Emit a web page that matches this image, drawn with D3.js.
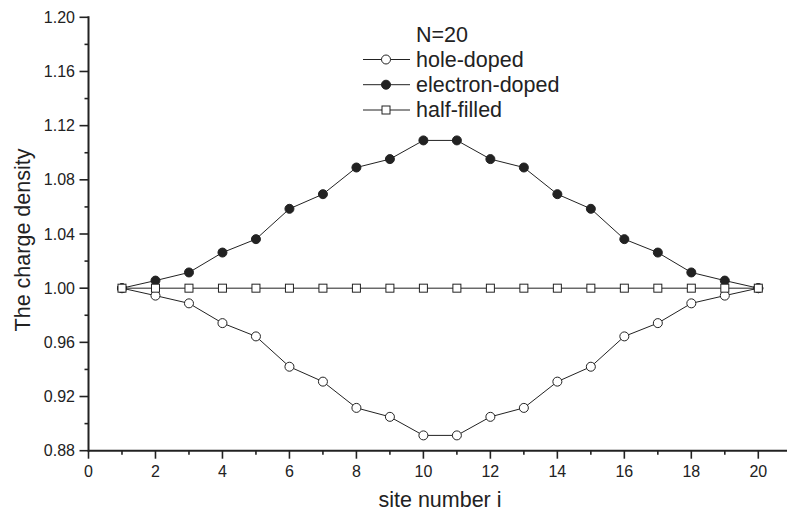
<!DOCTYPE html>
<html><head><meta charset="utf-8">
<script src="https://cdn.jsdelivr.net/npm/d3@7"></script>
<style>body{margin:0;background:#fff}svg{display:block}text{font-family:"Liberation Sans",Arial,sans-serif;fill:#222}</style>
</head><body><svg id="c" width="787" height="515"></svg>
<script>
const sites = d3.range(1, 21);
const holeDoped = [1.000,0.9945,0.9888,0.9742,0.9644,0.9420,0.9310,0.9116,0.9050,0.8913,0.8913,0.9050,0.9116,0.9310,0.9420,0.9644,0.9742,0.9888,0.9945,1.000];
const electronDoped = [1.000,1.0056,1.0116,1.0263,1.0362,1.0586,1.0694,1.0891,1.0953,1.1091,1.1091,1.0953,1.0891,1.0694,1.0586,1.0362,1.0263,1.0116,1.0056,1.000];
const halfFilled = [1,1,1,1,1,1,1,1,1,1,1,1,1,1,1,1,1,1,1,1];
const xTicks = [0,2,4,6,8,10,12,14,16,18,20];
const yTicks = [0.88,0.92,0.96,1.00,1.04,1.08,1.12,1.16,1.20];
const legendTitle = "N=20";
const seriesNames = ["hole-doped","electron-doped","half-filled"];

const svg = d3.select("#c");
const x0 = 88.5, x20 = 758.3, yTop = 17.3, yBot = 450.7;
const x = d3.scaleLinear().domain([0,20]).range([x0,x20]);
const y = d3.scaleLinear().domain([0.88,1.20]).range([yBot,yTop]);
const ink = "#222";

// x axis
const gx = svg.append("g");
gx.append("line").attr("x1",x0).attr("x2",787).attr("y1",yBot).attr("y2",yBot).attr("stroke",ink).attr("stroke-width",2);
gx.selectAll(".mj").data(xTicks).join("line").attr("x1",d=>x(d)).attr("x2",d=>x(d)).attr("y1",yBot).attr("y2",yBot+8).attr("stroke",ink).attr("stroke-width",1.6);
gx.selectAll(".mn").data(d3.range(1,21,2)).join("line").attr("x1",d=>x(d)).attr("x2",d=>x(d)).attr("y1",yBot).attr("y2",yBot+4).attr("stroke",ink).attr("stroke-width",1.6);
gx.selectAll("text").data(xTicks).join("text").attr("x",d=>x(d)).attr("y",476.5).attr("text-anchor","middle").attr("font-size",16).text(d=>d);

// y axis
const gy = svg.append("g");
gy.append("line").attr("x1",x0).attr("x2",x0).attr("y1",yTop-1).attr("y2",yBot+1).attr("stroke",ink).attr("stroke-width",2);
gy.selectAll(".mj").data(yTicks).join("line").attr("x1",x0-9).attr("x2",x0).attr("y1",d=>y(d)).attr("y2",d=>y(d)).attr("stroke",ink).attr("stroke-width",1.6);
gy.selectAll(".mn").data(d3.range(0.90,1.20,0.04)).join("line").attr("x1",x0-4).attr("x2",x0).attr("y1",d=>y(d)).attr("y2",d=>y(d)).attr("stroke",ink).attr("stroke-width",1.6);
gy.selectAll("text").data(yTicks).join("text").attr("x",75).attr("y",d=>y(d)+5.5).attr("text-anchor","end").attr("font-size",16).text(d=>d.toFixed(2));

// titles
svg.append("text").attr("x",440).attr("y",507).attr("text-anchor","middle").attr("font-size",21.5).text("site number i");
svg.append("text").attr("transform","translate(30,240) rotate(-90)").attr("text-anchor","middle").attr("font-size",21.5).text("The charge density");

// series
const line = d3.line().x((d,i)=>x(sites[i])).y(d=>y(d));
function drawSeries(vals, kind){
  const g = svg.append("g");
  g.append("path").attr("d",line(vals)).attr("fill","none").attr("stroke",ink).attr("stroke-width",1);
  drawMarkers(g, vals.map((v,i)=>[x(sites[i]),y(v)]), kind);
}
function drawMarkers(g, pts, kind){
  if(kind==="square"){
    g.selectAll("rect").data(pts).join("rect").attr("x",d=>d[0]-4).attr("y",d=>d[1]-4).attr("width",8).attr("height",8).attr("fill","#fff").attr("stroke",ink).attr("stroke-width",1);
  } else {
    g.selectAll("circle").data(pts).join("circle").attr("cx",d=>d[0]).attr("cy",d=>d[1]).attr("r",4.5).attr("fill",kind==="filled"?ink:"#fff").attr("stroke",ink).attr("stroke-width",1);
  }
}
drawSeries(holeDoped,"open");
drawSeries(electronDoped,"filled");
drawSeries(halfFilled,"square");

// legend
svg.append("text").attr("x",416).attr("y",41.5).attr("font-size",21.5).text(legendTitle);
const kinds = ["open","filled","square"];
const ly = [59.5,84.7,110];
seriesNames.forEach((n,i)=>{
  const g = svg.append("g");
  g.append("line").attr("x1",363).attr("x2",410).attr("y1",ly[i]).attr("y2",ly[i]).attr("stroke",ink).attr("stroke-width",1);
  drawMarkers(g, [[386,ly[i]]], kinds[i]);
  g.append("text").attr("x",416).attr("y",ly[i]+7).attr("font-size",21.5).text(n);
});
</script></body></html>
